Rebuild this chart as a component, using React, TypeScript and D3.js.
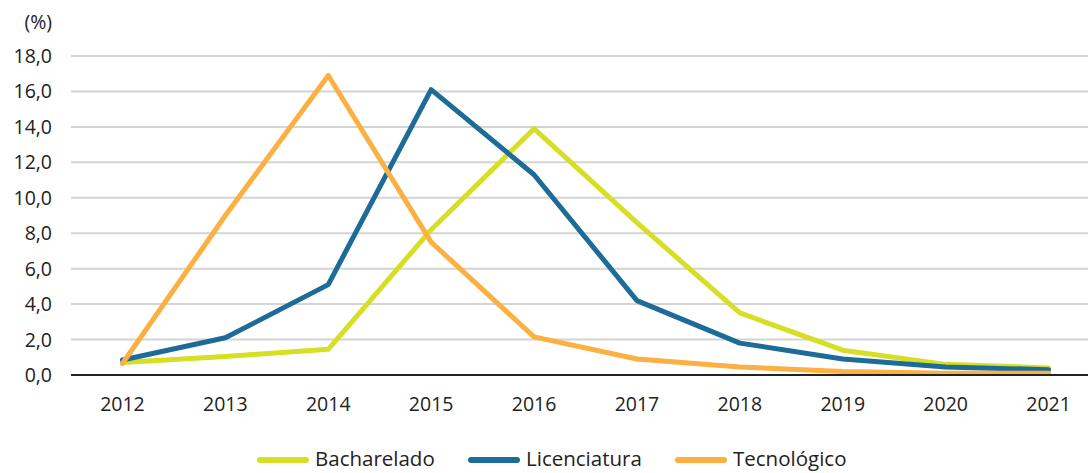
import React, { useEffect, useRef } from "react";
import * as d3 from "d3";

const years = ["2012", "2013", "2014", "2015", "2016", "2017", "2018", "2019", "2020", "2021"];
const bacharelado = [0.7, 1.05, 1.45, 8.2, 13.9, 8.6, 3.5, 1.4, 0.6, 0.4];
const licenciatura = [0.85, 2.1, 5.1, 16.1, 11.3, 4.2, 1.8, 0.9, 0.45, 0.3];
const tecnologico = [0.65, 9.0, 16.9, 7.5, 2.15, 0.9, 0.45, 0.2, 0.1, 0.1];
const yTicks = [0, 2, 4, 6, 8, 10, 12, 14, 16, 18];

const seriesNames = ["Bacharelado", "Licenciatura", "Tecnológico"];
const seriesValues = [bacharelado, licenciatura, tecnologico];
const colors = ["#d6df23", "#1d6c98", "#fbb041"];

const width = 1088;
const height = 473;
const font = "'Source Sans Pro', 'Open Sans', 'Noto Sans', sans-serif";

export default function App() {
    const ref = useRef<SVGSVGElement>(null);

    useEffect(() => {
        const svg = d3.select(ref.current);
        svg.selectAll("*").remove();

        const x = d3.scaleBand().domain(years).range([71, 1100]);
        const y = d3.scaleLinear().domain([0, 18]).range([375, 56]);
        const cx = (d: string) => (x(d) as number) + x.bandwidth() / 2;

        // gridlines
        svg.append("g")
            .selectAll("line")
            .data(yTicks.filter(d => d > 0))
            .enter()
            .append("line")
            .attr("x1", 71)
            .attr("x2", width)
            .attr("y1", d => y(d))
            .attr("y2", d => y(d))
            .attr("stroke", "#d4d4d4")
            .attr("stroke-width", 2);

        // y labels
        svg.append("g")
            .selectAll("text")
            .data(yTicks)
            .enter()
            .append("text")
            .attr("x", 52)
            .attr("y", d => y(d) + 7)
            .attr("text-anchor", "end")
            .attr("font-size", 19.5)
            .attr("font-family", font)
            .attr("fill", "#222")
            .text(d => d3.format(".1f")(d).replace(".", ","));

        svg.append("text")
            .attr("x", 52)
            .attr("y", 29)
            .attr("text-anchor", "end")
            .attr("font-size", 19.5)
            .attr("font-family", font)
            .attr("fill", "#222")
            .text("(%)");

        // x labels
        svg.append("g")
            .selectAll("text")
            .data(years)
            .enter()
            .append("text")
            .attr("x", d => cx(d))
            .attr("y", 411)
            .attr("text-anchor", "middle")
            .attr("font-size", 19.5)
            .attr("font-family", font)
            .attr("fill", "#222")
            .text(d => d);

        // lines
        const line = d3.line<number>()
            .x((_, i) => cx(years[i]))
            .y(d => y(d));

        seriesValues.forEach((vals, i) => {
            svg.append("path")
                .datum(vals)
                .attr("d", line)
                .attr("fill", "none")
                .attr("stroke", colors[i])
                .attr("stroke-width", 5)
                .attr("stroke-linejoin", "round")
                .attr("stroke-linecap", "round");
        });

        // baseline
        svg.append("line")
            .attr("x1", 71)
            .attr("x2", width)
            .attr("y1", y(0))
            .attr("y2", y(0))
            .attr("stroke", "#222")
            .attr("stroke-width", 2);

        // legend
        const legendX = [260, 471, 678];
        const lg = svg.append("g");
        seriesNames.forEach((name, i) => {
            lg.append("line")
                .attr("x1", legendX[i])
                .attr("x2", legendX[i] + 46)
                .attr("y1", 460)
                .attr("y2", 460)
                .attr("stroke", colors[i])
                .attr("stroke-width", 6)
                .attr("stroke-linecap", "round");
            lg.append("text")
                .attr("x", legendX[i] + 55)
                .attr("y", 466)
                .attr("font-size", 20.5)
                .attr("font-family", font)
                .attr("fill", "#222")
                .text(name);
        });
    }, []);

    return (
        <svg
            ref={ref}
            width={width}
            height={height}
            style={{ position: "absolute", left: 0, top: 0, background: "#fff" }}
        />
    );
}
